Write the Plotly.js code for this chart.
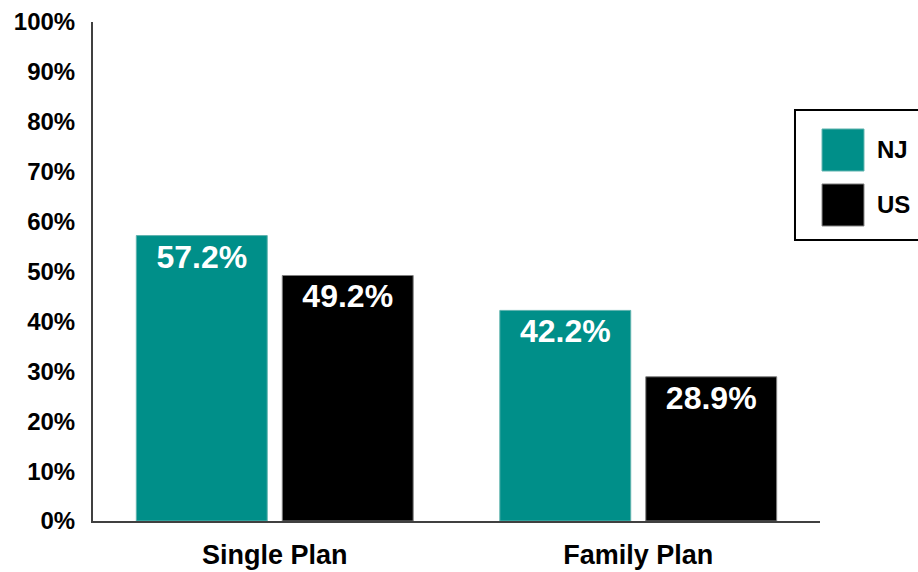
<!DOCTYPE html>
<html>
<head>
<meta charset="utf-8">
<script src="https://cdn.plot.ly/plotly-3.0.1.min.js"></script>
<style>html,body{margin:0;padding:0;background:#fff;}#chart{width:918px;height:572px;}</style>
</head>
<body>
<div id="chart"></div>
<script>
const categories = ["Single Plan", "Family Plan"];
const seriesNames = ["NJ", "US"];
const njValues = [57.2, 42.2];
const usValues = [49.2, 28.9];
const yTickVals = [0, 10, 20, 30, 40, 50, 60, 70, 80, 90, 100];
const yTickText = ["0%", "10%", "20%", "30%", "40%", "50%", "60%", "70%", "80%", "90%", "100%"];

const colors = ["#008F89", "#000000"];
const FONT = "Arial, 'Liberation Sans', sans-serif";

function mkTrace(name, vals, color, lineColor) {
  return {
    type: "bar",
    name: name,
    x: categories,
    y: vals,
    text: vals.map(v => v.toFixed(1) + "%"),
    textposition: "inside",
    insidetextanchor: "end",
    textangle: 0,
    textfont: {family: FONT, size: 32, color: "#ffffff", weight: "bold"},
    marker: {color: color, line: {color: lineColor, width: 1}},
    hoverinfo: "none",
    showlegend: false,
    cliponaxis: false
  };
}

const data = [
  mkTrace(seriesNames[0], njValues, colors[0], "#5fb3ae"),
  mkTrace(seriesNames[1], usValues, colors[1], "#808080")
];

// Legend built from series names (paper coordinates)
const legShapes = [
  {type: "rect", xref: "paper", yref: "paper", x0: 0.9656, x1: 1.14, y0: 0.5631, y1: 0.8236,
   line: {color: "#000", width: 2}, fillcolor: "rgba(0,0,0,0)"},
  {type: "rect", xref: "paper", yref: "paper", x0: 1.0028, x1: 1.0605, y0: 0.7014, y1: 0.7856,
   line: {color: "#5fb3ae", width: 1}, fillcolor: colors[0]},
  {type: "rect", xref: "paper", yref: "paper", x0: 1.0028, x1: 1.0605, y0: 0.5912, y1: 0.6754,
   line: {color: "#808080", width: 1}, fillcolor: colors[1]}
];
const legAnn = [
  {xref: "paper", yref: "paper", x: 1.075, y: 0.7435, xanchor: "left", yanchor: "middle",
   text: seriesNames[0], showarrow: false, font: {family: FONT, size: 24, color: "#000", weight: "bold"}},
  {xref: "paper", yref: "paper", x: 1.075, y: 0.6333, xanchor: "left", yanchor: "middle",
   text: seriesNames[1], showarrow: false, font: {family: FONT, size: 24, color: "#000", weight: "bold"}}
];

const layout = {
  width: 918, height: 572,
  margin: {l: 93, r: 98, t: 22, b: 51, pad: 0},
  paper_bgcolor: "#fff", plot_bgcolor: "#fff",
  barmode: "group",
  bargap: 0.197,
  bargroupgap: 0.103,
  showlegend: false,
  font: {family: FONT, color: "#000"},
  xaxis: {
    type: "category",
    showline: true, linecolor: "#404040", linewidth: 2,
    showgrid: false, zeroline: false,
    ticks: "outside", ticklen: 9, tickcolor: "rgba(0,0,0,0)",
    tickfont: {family: FONT, size: 27, color: "#000", weight: "bold"}
  },
  yaxis: {
    range: [0, 100],
    tickvals: yTickVals, ticktext: yTickText,
    showline: true, linecolor: "#404040", linewidth: 2,
    showgrid: false, zeroline: false,
    ticks: "outside", ticklen: 11, tickcolor: "rgba(0,0,0,0)",
    tickfont: {family: FONT, size: 24, color: "#000", weight: "bold"}
  },
  shapes: legShapes,
  annotations: legAnn
};

Plotly.newPlot("chart", data, layout, {displayModeBar: false, staticPlot: true});
</script>
</body>
</html>
